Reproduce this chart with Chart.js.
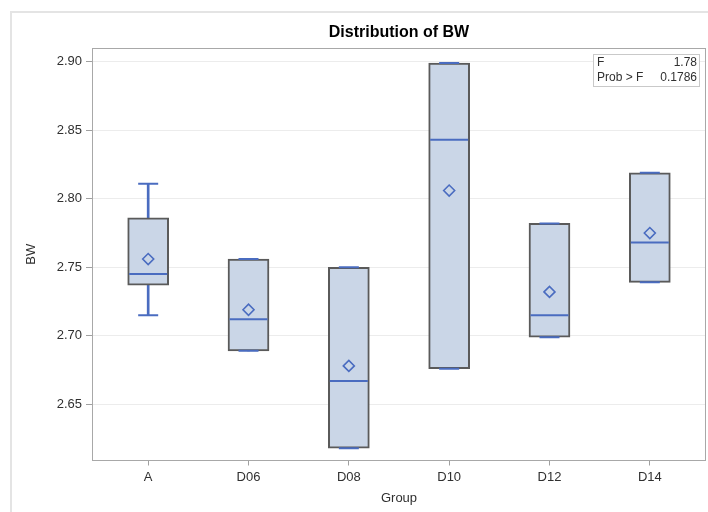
<!DOCTYPE html>
<html>
<head>
<meta charset="utf-8">
<script src="https://cdn.jsdelivr.net/npm/chart.js@4.4.1/dist/chart.umd.min.js"></script>
<style>
  html, body { margin: 0; padding: 0; background: #ffffff; }
  #wrap { width: 708px; height: 512px; position: relative; }
</style>
</head>
<body>
<div id="wrap"><canvas id="c" width="708" height="512"></canvas></div>
<script>
// Box-plot summary of BW by group
const groups = ['A', 'D06', 'D08', 'D10', 'D12', 'D14'];
const whiskerLow  = [2.715, 2.689, 2.618, 2.676, 2.699, 2.739];
const q1          = [2.737, 2.689, 2.618, 2.676, 2.699, 2.739];
const median      = [2.745, 2.712, 2.667, 2.843, 2.715, 2.768];
const q3          = [2.786, 2.756, 2.750, 2.899, 2.782, 2.819];
const whiskerHigh = [2.811, 2.756, 2.750, 2.899, 2.782, 2.819];
const mean        = [2.756, 2.719, 2.678, 2.806, 2.732, 2.775];
const yTicks = [2.65, 2.70, 2.75, 2.80, 2.85, 2.90];
const fStat = '1.78';
const pValue = '0.1786';

const FONT = "'Liberation Sans', Arial, Helvetica, sans-serif";
const BLUE = '#4a6cc0';
const TEXT = '#303030';
const idx = groups.map((_, i) => i);

// Frame around the plot, the outer page border and the F-test inset
const decor = {
  id: 'decor',
  beforeDraw(chart) {
    const ctx = chart.ctx;
    ctx.save();
    ctx.strokeStyle = '#e4e4e4';
    ctx.lineWidth = 2;
    ctx.beginPath();
    ctx.moveTo(11, 512);
    ctx.lineTo(11, 12);
    ctx.lineTo(708, 12);
    ctx.stroke();
    ctx.restore();
  },
  beforeDatasetsDraw(chart) {
    const { ctx, chartArea: a } = chart;
    ctx.save();
    ctx.strokeStyle = '#a8a8a8';
    ctx.lineWidth = 1;
    ctx.strokeRect(Math.round(a.left) + 0.5, Math.round(a.top) + 0.5,
                   Math.round(a.right - a.left) - 1, Math.round(a.bottom - a.top) - 1);
    ctx.restore();
  },
  afterDraw(chart) {
    const { ctx, chartArea: a } = chart;
    const right = a.right - 6, top = a.top + 6, w = 107, h = 33;
    ctx.save();
    ctx.fillStyle = '#ffffff';
    ctx.fillRect(right - w, top, w, h);
    ctx.strokeStyle = '#c9c9c9';
    ctx.lineWidth = 1;
    ctx.strokeRect(right - w + 0.5, top + 0.5, w - 1, h - 1);
    ctx.font = '12px ' + FONT;
    ctx.fillStyle = TEXT;
    ctx.textBaseline = 'middle';
    ctx.textAlign = 'left';
    ctx.fillText('F', right - w + 4, top + 8.5);
    ctx.fillText('Prob > F', right - w + 4, top + 24);
    ctx.textAlign = 'right';
    ctx.fillText(fStat, right - 3, top + 8.5);
    ctx.fillText(pValue, right - 3, top + 24);
    ctx.restore();
  }
};

new Chart(document.getElementById('c'), {
  type: 'bar',
  data: {
    datasets: [
      {
        label: 'Whisker',
        data: idx.map(i => ({ x: i, y: [whiskerLow[i], whiskerHigh[i]] })),
        backgroundColor: BLUE,
        borderWidth: 0,
        barThickness: 2,
        grouped: false,
        order: 5
      },
      {
        label: 'Box',
        data: idx.map(i => ({ x: i, y: [q1[i], q3[i]] })),
        backgroundColor: '#cad6e7',
        borderColor: '#5a5a5a',
        borderWidth: 2,
        borderSkipped: false,
        barThickness: 41,
        grouped: false,
        order: 4
      },
      {
        type: 'scatter',
        label: 'Caps',
        data: idx.map(i => ({ x: i, y: whiskerLow[i] }))
              .concat(idx.map(i => ({ x: i, y: whiskerHigh[i] }))),
        pointStyle: 'line',
        radius: 10,
        hoverRadius: 10,
        borderColor: BLUE,
        borderWidth: 2,
        order: 3
      },
      {
        type: 'scatter',
        label: 'Median',
        data: idx.map(i => ({ x: i, y: median[i] })),
        pointStyle: 'line',
        radius: 19,
        hoverRadius: 19,
        borderColor: BLUE,
        borderWidth: 2,
        order: 2
      },
      {
        type: 'scatter',
        label: 'Mean',
        data: idx.map(i => ({ x: i, y: mean[i] })),
        pointStyle: 'rectRot',
        radius: 5.5,
        hoverRadius: 5.5,
        borderColor: BLUE,
        backgroundColor: 'rgba(0,0,0,0)',
        borderWidth: 1.6,
        order: 1
      }
    ]
  },
  options: {
    responsive: false,
    animation: false,
    events: [],
    layout: { autoPadding: false, padding: { left: 0, right: 2, top: 0, bottom: 0 } },
    plugins: {
      legend: { display: false },
      tooltip: { enabled: false },
      title: {
        display: true,
        text: 'Distribution of BW',
        fullSize: false,
        color: '#000000',
        font: { family: FONT, size: 16, weight: 'bold' },
        padding: { top: 23, bottom: 5.8 }
      }
    },
    scales: {
      x: {
        type: 'linear',
        min: -0.56,
        max: 5.56,
        offset: false,
        afterBuildTicks: s => { s.ticks = idx.map(v => ({ value: v })); },
        afterFit: s => { s.height = 51.5; s.paddingLeft = 0; s.paddingRight = 0; },
        grid: { offset: false, drawOnChartArea: false, drawTicks: true, tickLength: 5, tickColor: '#a0a0a0' },
        border: { display: false },
        ticks: {
          callback: v => groups[v],
          autoSkip: false,
          maxRotation: 0,
          padding: 4,
          color: TEXT,
          font: { family: FONT, size: 13 }
        },
        title: {
          display: true,
          text: 'Group',
          color: TEXT,
          font: { family: FONT, size: 13 },
          padding: { top: 0, bottom: 6 }
        }
      },
      y: {
        type: 'linear',
        min: 2.609,
        max: 2.910,
        afterBuildTicks: s => { s.ticks = yTicks.map(v => ({ value: v })); },
        afterFit: s => { s.width = 92; },
        grid: { color: '#ececec', tickColor: '#a0a0a0', tickLength: 6, lineWidth: 1 },
        border: { display: false },
        ticks: {
          callback: v => Number(v).toFixed(2),
          padding: 4,
          color: TEXT,
          font: { family: FONT, size: 13 }
        },
        title: {
          display: true,
          text: 'BW',
          color: TEXT,
          font: { family: FONT, size: 13 },
          padding: { top: 24, bottom: 0 }
        }
      }
    }
  },
  plugins: [decor]
});
</script>
</body>
</html>
